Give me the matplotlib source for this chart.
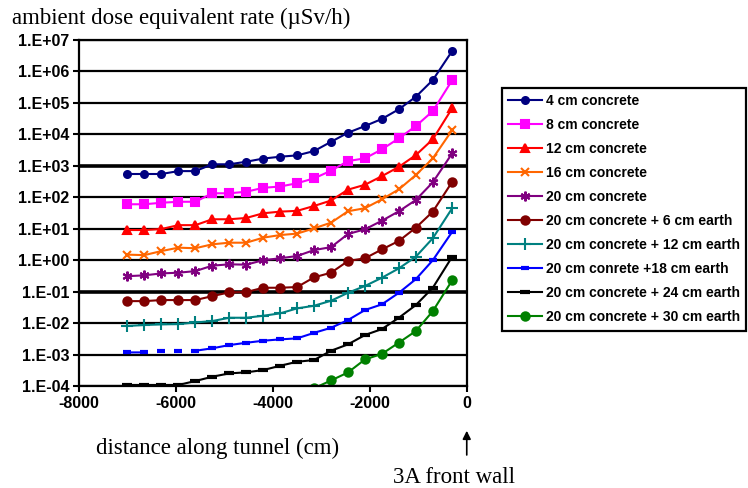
import matplotlib
matplotlib.use("Agg")
import matplotlib.pyplot as plt
from matplotlib.ticker import FixedLocator, FuncFormatter, NullLocator
import numpy as np

# distance along tunnel (cm), measurement positions
dist = [-7000, -6650, -6300, -5950, -5600, -5250, -4900, -4550, -4200, -3850,
        -3500, -3150, -2800, -2450, -2100, -1750, -1400, -1050, -700, -300]

# dose rates (uSv/h)
c4 = [550, 550, 550, 680, 680, 1120, 1120, 1350, 1700, 1950,
      2150, 2950, 5800, 11300, 18400, 31000, 63000, 157000, 535000, 4.5e6]
c8 = [60, 60, 67, 72, 72, 134, 134, 150, 200, 220,
      280, 400, 700, 1420, 1730, 3350, 7500, 18400, 55000, 530000]
c12 = [9.1, 9.1, 9.8, 13, 13, 20, 20, 22, 31, 35,
       37, 53, 79, 175, 250, 470, 930, 2200, 7000, 68000]
c16 = [1.5, 1.45, 1.95, 2.5, 2.4, 3.2, 3.6, 3.6, 5.2, 6.3,
       7.0, 10.3, 15.6, 36, 45, 86, 179, 510, 1730, 13700]
c20 = [0.31, 0.33, 0.38, 0.40, 0.45, 0.67, 0.74, 0.72, 1.0, 1.15,
       1.36, 2.1, 2.6, 6.8, 9.6, 18, 36, 82, 300, 2500]
e6 = [0.050, 0.050, 0.054, 0.054, 0.054, 0.072, 0.095, 0.097, 0.133, 0.133,
      0.14, 0.285, 0.40, 0.94, 1.15, 2.2, 4.1, 10.8, 35, 310]
e12 = [0.0081, 0.0087, 0.0091, 0.0093, 0.0105, 0.0116, 0.0148, 0.0148, 0.0171, 0.0204,
       0.0294, 0.0356, 0.0514, 0.092, 0.151, 0.277, 0.55, 1.29, 5.0, 45]
e18 = [0.00117, 0.00117, 0.00130, 0.00132, 0.00132, 0.00158, 0.0020, 0.00237, 0.00275, 0.00304,
       0.00327, 0.0049, 0.0071, 0.0125, 0.026, 0.0395, 0.092, 0.25, 1.0, 8.0]
e24 = [0.000108, 0.000108, 0.000108, 0.000108, 0.000144, 0.000197, 0.000252, 0.000272, 0.000321, 0.00044,
       0.00059, 0.00067, 0.00132, 0.00211, 0.00417, 0.00647, 0.0148, 0.0375, 0.133, 1.29]
e30 = [None] * 10 + [6.5e-5, 8.5e-5, 1.5e-4, 2.7e-4, 7.0e-4, 1.05e-3, 2.4e-3, 5.6e-3, 0.024, 0.23]

labels = ["4 cm concrete", "8 cm concrete", "12 cm concrete", "16 cm concrete",
          "20 cm concrete", "20 cm concrete + 6 cm earth", "20 cm concrete + 12 cm earth",
          "20 cm conrete +18 cm earth", "20 cm concrete + 24 cm earth",
          "20 cm concrete + 30 cm earth"]

series = [c4, c8, c12, c16, c20, e6, e12, e18, e24, e30]
colors = ["#000080", "#FF00FF", "#FF0000", "#FF6600", "#800080",
          "#800000", "#008080", "#0000FF", "#000000", "#008000"]
markers = ["o", "s", "^", "x", (6, 2, 0), "o", "+", "_", "_", "o"]
msizes = [5, 6, 6, 6, 7, 6, 8, 6, 7, 6]

fig = plt.figure(figsize=(7.48, 4.88), dpi=100)
ax = fig.add_axes([0.1056, 0.209, 0.5184, 0.709])

x = np.array(dist, dtype=float)
for i in range(len(series)):
    y = np.array([np.nan if v is None else v for v in series[i]], dtype=float)
    mew = 3 if markers[i] == "_" else 1.5
    if i == 7:
        # blue curve: a few segments are missing near the start
        yl = y.copy()
        yl[2:4] = np.nan
        ax.plot(x, yl, color=colors[i], lw=1.5, marker=markers[i], ms=msizes[i],
                mew=mew, label=labels[i])
        ax.plot(x[2:4], y[2:4], color=colors[i], ls="none", marker=markers[i],
                ms=msizes[i], mew=mew)
        continue
    ax.plot(x, y, color=colors[i], lw=1.5, marker=markers[i], ms=msizes[i],
            mew=mew, label=labels[i])

ax.set_yscale("log")
ax.set_ylim(1e-4, 1e7)
ax.set_xlim(-8000, 0)
ax.yaxis.set_major_locator(FixedLocator([10.0 ** k for k in range(-4, 8)]))
ax.yaxis.set_minor_locator(NullLocator())
ax.yaxis.set_major_formatter(FuncFormatter(lambda v, p: "1.E{:+03d}".format(int(round(np.log10(v))))))
ax.set_xticks([-8000, -6000, -4000, -2000, 0])
ax.xaxis.set_major_formatter(FuncFormatter(lambda v, p: "%d" % v))

ax.grid(axis="y", color="black", lw=1.6)
for gl, v in zip(ax.get_ygridlines(), ax.get_yticks()):
    if int(round(np.log10(v))) in (3, -1):
        gl.set_linewidth(2.6)
ax.set_axisbelow(True)
for s in ax.spines.values():
    s.set_linewidth(1.6)
    s.set_color("black")

ax.tick_params(axis="both", direction="out", length=4, width=1.5, color="black", pad=3)
for lab in ax.get_yticklabels() + ax.get_xticklabels():
    lab.set_family("Liberation Sans")
    lab.set_weight("bold")
    lab.set_fontsize(11.5)

fig.text(0.016, 0.963, "ambient dose equivalent rate (\u00b5Sv/h)", family="Liberation Serif",
         fontsize=16.5, va="center", ha="left")
fig.text(0.129, 0.082, "distance along tunnel (cm)", family="Liberation Serif",
         fontsize=16.5, va="center", ha="left")
fig.text(0.525, 0.022, "3A front wall", family="Liberation Serif",
         fontsize=16.5, va="center", ha="left")
ax.annotate("", xy=(0, 0.123), xycoords=("data", "figure fraction"),
            xytext=(0, 0.062), textcoords=("data", "figure fraction"),
            arrowprops=dict(arrowstyle="-|>", color="black", lw=1.2, mutation_scale=12),
            annotation_clip=False)

handles, labs = ax.get_legend_handles_labels()
leg = ax.legend(handles, labs, loc="upper left", bbox_to_anchor=(502 / 748, 1 - 88 / 488),
                bbox_transform=fig.transFigure, borderaxespad=0, fancybox=False,
                edgecolor="black", framealpha=1, handlelength=2.4, handletextpad=0.3,
                labelspacing=0.72, borderpad=0.45,
                prop={"family": "Liberation Sans", "weight": "bold", "size": 10})
leg.get_frame().set_linewidth(1.6)

fig.savefig("out.png", dpi=100)
